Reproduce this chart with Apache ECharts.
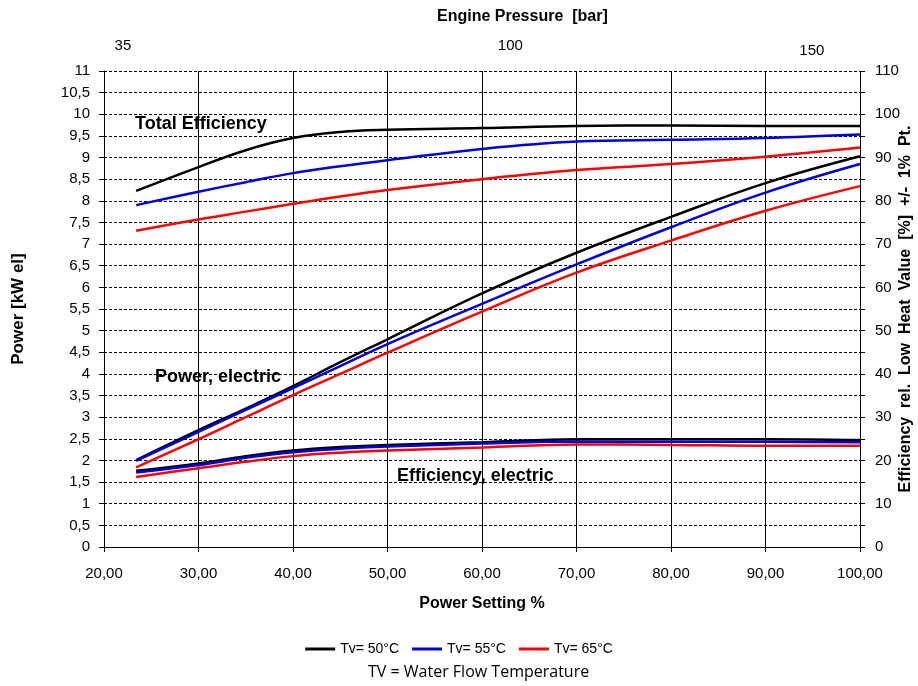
<!DOCTYPE html>
<html>
<head>
<meta charset="utf-8">
<script src="https://cdn.jsdelivr.net/npm/echarts@6/dist/echarts.min.js"></script>
<style>html,body{margin:0;padding:0;background:#fff}#c{width:918px;height:686px}</style>
</head>
<body>
<div id="c"></div>
<script>
// Power setting % (x positions of readings)
var powerSetting = [23.4, 30, 35, 40, 45, 50, 60, 70, 80, 90, 100];

// Total efficiency [%] (right axis)
var totalEff50 = [82.3, 87.8, 91.7, 94.5, 95.9, 96.4, 96.8, 97.3, 97.4, 97.3, 97.3];
var totalEff55 = [79.0, 82.1, 84.3, 86.4, 88.0, 89.4, 92.0, 93.7, 94.1, 94.5, 95.3];
var totalEff65 = [73.1, 75.7, 77.5, 79.3, 81.0, 82.5, 85.0, 87.1, 88.5, 90.2, 92.3];

// Electric power [kW el] (left axis)
var power50 = [2.01, 2.70, 3.20, 3.72, 4.27, 4.80, 5.86, 6.80, 7.63, 8.41, 9.03];
var power55 = [1.99, 2.66, 3.17, 3.67, 4.18, 4.69, 5.62, 6.53, 7.39, 8.19, 8.85];
var power65 = [1.84, 2.49, 3.00, 3.51, 4.00, 4.49, 5.44, 6.34, 7.08, 7.77, 8.34];

// Electric efficiency [%] (right axis)
var elEff50 = [17.6, 19.3, 21.0, 22.3, 23.1, 23.6, 24.2, 24.9, 24.9, 24.9, 24.7];
var elEff55 = [17.2, 18.95, 20.6, 21.9, 22.7, 23.2, 23.9, 24.4, 24.3, 24.3, 24.2];
var elEff65 = [16.2, 18.2, 19.7, 21.0, 21.8, 22.3, 23.0, 23.7, 23.6, 23.4, 23.4];

// Top axis (engine pressure) labels and their positions on the power-setting scale
var pressureLabels = ['35', '100', '150'];
var pressurePositions = [22.0, 63.0, 94.9];

var seriesNames = ['Tv= 50°C', 'Tv= 55°C', 'Tv= 65°C'];
var colors = ['#000000', '#0000dd', '#ff0000'];

function pairs(ys) { return powerSetting.map(function (x, i) { return [x, ys[i]]; }); }
function comma(v, d) { return v.toFixed(d).replace('.', ','); }

var font = 'Liberation Sans, Arial, sans-serif';
var groups = [
  { data: [totalEff50, totalEff55, totalEff65], yAxisIndex: 1 },
  { data: [power50, power55, power65], yAxisIndex: 0 },
  { data: [elEff50, elEff55, elEff65], yAxisIndex: 1 }
];
var series = [];
groups.forEach(function (g) {
  g.data.forEach(function (d, i) {
    series.push({
      name: seriesNames[i], type: 'line', xAxisIndex: 0, yAxisIndex: g.yAxisIndex,
      data: pairs(d), smooth: 0.4, showSymbol: false, symbol: 'none',
      lineStyle: { color: colors[i], width: 2.5 }, itemStyle: { color: colors[i] }, z: 3
    });
  });
});

var chart = echarts.init(document.getElementById('c'));
chart.setOption({
  animation: false,
  backgroundColor: '#fff',
  textStyle: { fontFamily: font },
  grid: { left: 104, right: 58, top: 71, bottom: 139, containLabel: false, outerBoundsMode: 'none' },
  legend: {
    data: seriesNames, top: 637, left: 'center', itemGap: 13,
    icon: 'rect', itemWidth: 30, itemHeight: 3,
    textStyle: { fontFamily: font, fontSize: 14, color: '#000' }
  },
  xAxis: [{
    type: 'value', position: 'bottom', min: 20, max: 100, interval: 10,
    name: 'Power Setting %', nameLocation: 'middle', nameGap: 49,
    nameTextStyle: { fontFamily: font, fontSize: 16, fontWeight: 'bold', color: '#000' },
    axisLine: { show: true, onZero: false, lineStyle: { color: '#000', width: 1 } },
    axisTick: { show: true, length: 5, lineStyle: { color: '#000' } },
    axisLabel: { fontSize: 15, color: '#000', margin: 19, formatter: function (v) { return comma(v, 2); } },
    splitLine: { show: true, lineStyle: { color: '#000', width: 1, type: 'solid' } }
  }, {
    type: 'value', position: 'top', min: 20, max: 100,
    axisLine: { show: false }, axisTick: { show: false }, splitLine: { show: false },
    axisLabel: {
      show: true, customValues: pressurePositions, fontSize: 15, color: '#000', margin: 18,
      formatter: function (v) {
        var i = pressurePositions.indexOf(v);
        if (i < 0) return '';
        return i === pressureLabels.length - 1 ? '{low|' + pressureLabels[i] + '}' : pressureLabels[i];
      },
      rich: { low: { fontSize: 15, color: '#000', padding: [0, 0, -5, 0] } }
    }
  }],
  yAxis: [{
    type: 'value', position: 'left', min: 0, max: 11, interval: 0.5,
    name: 'Power [kW el]', nameLocation: 'middle', nameGap: 77, nameRotate: 90,
    nameTextStyle: { fontFamily: font, fontSize: 17, fontWeight: 'bold', color: '#000' },
    axisLine: { show: true, lineStyle: { color: '#000', width: 1 } },
    axisTick: { show: true, length: 5, lineStyle: { color: '#000' } },
    axisLabel: { fontSize: 15, color: '#000', margin: 14, formatter: function (v) { return String(Math.round(v * 10) / 10).replace('.', ','); } },
    splitLine: { show: true, lineStyle: { color: '#000', width: 1, type: [3, 2] } }
  }, {
    type: 'value', position: 'right', min: 0, max: 110, interval: 10,
    name: 'Efficiency  rel.  Low  Heat  Value  [%]  +/-  1%  Pt.', nameLocation: 'middle', nameGap: 38, nameRotate: 90,
    nameMoveOverlap: false,
    nameTextStyle: { fontFamily: font, fontSize: 16, fontWeight: 'bold', color: '#000' },
    axisLine: { show: true, lineStyle: { color: '#000', width: 1 } },
    axisTick: { show: true, length: 5, lineStyle: { color: '#000' } },
    minorTick: { show: true, splitNumber: 2, length: 5, lineStyle: { color: '#000' } },
    axisLabel: { fontSize: 15, color: '#000', margin: 15 },
    splitLine: { show: false }
  }],
  graphic: [
    { type: 'text', left: 437, top: 9, style: { text: 'Engine Pressure  [bar]', font: 'bold 16px ' + font, fill: '#000' } },
    { type: 'text', left: 135, top: 115, style: { text: 'Total Efficiency', font: 'bold 18px ' + font, fill: '#000' } },
    { type: 'text', left: 155, top: 368, style: { text: 'Power, electric', font: 'bold 18px ' + font, fill: '#000' } },
    { type: 'text', left: 397, top: 467, style: { text: 'Efficiency, electric', font: 'bold 18px ' + font, fill: '#000' } },
    { type: 'text', left: 368, top: 664, style: { text: 'TV = Water Flow Temperature', font: '16px "Open Sans", sans-serif', fill: '#000' } }
  ],
  series: series
});
</script>
</body>
</html>
